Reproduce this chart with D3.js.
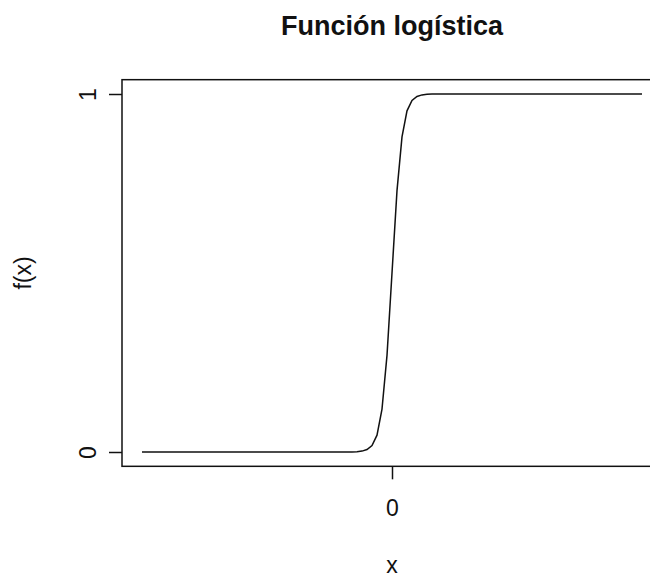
<!DOCTYPE html>
<html>
<head>
<meta charset="utf-8">
<script src="https://cdn.jsdelivr.net/npm/d3@7"></script>
<style>
  body { margin: 0; background: #fff; }
  text { font-family: "Liberation Sans", Arial, sans-serif; fill: #111; }
</style>
</head>
<body>
<div id="chart"></div>
<script>
// points of the curve
var xValues = [-50, -8, -7, -6, -5, -4, -3, -2, -1, 0, 1, 2, 3, 4, 5, 6, 7, 8, 50];
var yValues = [0, 0.0003, 0.001, 0.0025, 0.007, 0.018, 0.047, 0.12, 0.27, 0.5,
               0.73, 0.88, 0.953, 0.982, 0.993, 0.9975, 0.999, 0.9997, 1];
var xTicks = [0];
var yTicks = [0, 1];
var title = "Función logística";
var xLabel = "x";
var yLabel = "f(x)";

function init() {
    var W = 650, H = 580;
    var dataset = xValues.map(function(x, i) { return {x: x, y: yValues[i]}; });

    // plot region like R: data range plus 4% each side
    var xScale = d3.scaleLinear().domain([-50, 50]).range([142, 642]);
    var yScale = d3.scaleLinear().domain([0, 1]).range([452, 94]);
    var box = {
        x0: xScale(-54), x1: xScale(54),
        y0: yScale(1.04), y1: yScale(-0.04)
    };

    var svg = d3.select("#chart")
        .append("svg")
        .attr("width", W)
        .attr("height", H);

    svg.append("rect")
        .attr("x", box.x0)
        .attr("y", box.y0)
        .attr("width", box.x1 - box.x0)
        .attr("height", box.y1 - box.y0)
        .attr("fill", "none")
        .attr("stroke", "#111")
        .attr("stroke-width", 1.5);

    var line = d3.line()
        .x(d => xScale(d.x))
        .y(d => yScale(d.y));

    svg.append("path")
        .datum(dataset)
        .attr("d", line)
        .attr("fill", "none")
        .attr("stroke", "#111")
        .attr("stroke-width", 1.5);

    // x axis
    var gx = svg.append("g")
        .attr("transform", `translate(0, ${box.y1})`)
        .call(d3.axisBottom(xScale).tickValues(xTicks).tickFormat(d3.format("d"))
            .tickSize(13).tickPadding(20));
    gx.select(".domain").remove();
    gx.selectAll("line").attr("stroke", "#111").attr("stroke-width", 1.5);
    gx.selectAll("text")
        .style("font-size", "23px")
        .style("font-family", "Liberation Sans, Arial, sans-serif")
        .attr("fill", "#111");

    // y axis
    var gy = svg.append("g")
        .attr("transform", `translate(${box.x0}, 0)`)
        .call(d3.axisLeft(yScale).tickValues(yTicks).tickFormat(d3.format("d")).tickSize(13));
    gy.select(".domain").remove();
    gy.selectAll("line").attr("stroke", "#111").attr("stroke-width", 1.5);
    gy.selectAll("text")
        .attr("x", null).attr("dy", null)
        .attr("transform", "translate(-26, 0) rotate(-90)")
        .attr("text-anchor", "middle")
        .style("font-size", "23px")
        .style("font-family", "Liberation Sans, Arial, sans-serif")
        .attr("fill", "#111");

    svg.append("text")
        .attr("x", (box.x0 + box.x1) / 2)
        .attr("y", 35)
        .attr("text-anchor", "middle")
        .style("font-size", "27px")
        .style("font-weight", "bold")
        .text(title);

    svg.append("text")
        .attr("x", xScale(0))
        .attr("y", 573)
        .attr("text-anchor", "middle")
        .style("font-size", "23px")
        .text(xLabel);

    svg.append("text")
        .attr("transform", `translate(31, ${(box.y0 + box.y1) / 2}) rotate(-90)`)
        .attr("text-anchor", "middle")
        .style("font-size", "23px")
        .text(yLabel);
}

window.onload = init;
</script>
</body>
</html>
